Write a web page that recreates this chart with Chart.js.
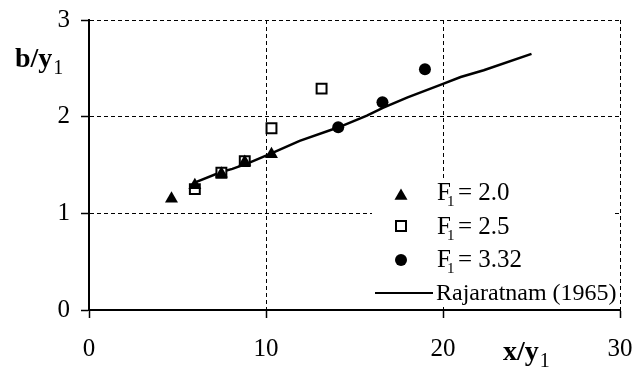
<!DOCTYPE html>
<html>
<head>
<meta charset="utf-8">
<script src="https://cdn.jsdelivr.net/npm/chart.js@4.4.1/dist/chart.umd.min.js"></script>
<style>
    html, body { margin: 0; padding: 0; background: #fff; }
    #wrap { width: 637px; height: 371px; }
</style>
</head>
<body>
<div id="wrap"><canvas id="myChart" width="637" height="371"></canvas></div>
<script>
// Measured points, grouped by inflow Froude number F1
const f20X = [4.66, 5.98, 7.48, 8.80, 10.31];
const f20Y = [1.15, 1.29, 1.41, 1.53, 1.61];
const f25X = [5.98, 7.48, 8.80, 10.31, 13.14];
const f25Y = [1.25, 1.42, 1.54, 1.88, 2.29];
const f332X = [14.08, 16.58, 18.98];
const f332Y = [1.89, 2.15, 2.49];

// Rajaratnam (1965) curve
const rajX = [6.0, 7.5, 8.1, 9.0, 10.3, 11.9, 14.1, 15.7, 16.6, 18.0, 20.0, 21.0, 22.3, 25.0];
const rajY = [1.32, 1.43, 1.46, 1.52, 1.62, 1.75, 1.89, 2.01, 2.09, 2.20, 2.34, 2.41, 2.48, 2.65];

const froudeValues = ['2.0', '2.5', '3.32'];
const curveLabel = 'Rajaratnam (1965)';
const xTicks = [0, 10, 20, 30];
const yTicks = [0, 1, 2, 3];

const serif = '"Liberation Serif", "Times New Roman", serif';

function toPoints(xs, ys) {
    return xs.map((x, i) => ({ x: x, y: ys[i] }));
}

// legend box sits inside the plot, lower right; axis titles drawn here too
const legendPlugin = {
    id: 'insideLegend',
    afterDatasetsDraw(chart) {
        const ctx = chart.ctx;
        ctx.save();
        ctx.fillStyle = '#fff';
        ctx.fillRect(372, 178, 240, 129);

        const markX = 401;
        const textX = 437;
        const baselines = [200, 234, 267, 300];
        const markY = [196, 226, 260];

        ctx.fillStyle = '#000';
        ctx.strokeStyle = '#000';

        // triangle
        ctx.beginPath();
        ctx.moveTo(markX, markY[0] - 7.5);
        ctx.lineTo(markX + 6.5, markY[0] + 3.75);
        ctx.lineTo(markX - 6.5, markY[0] + 3.75);
        ctx.closePath();
        ctx.fill();

        // open square
        ctx.lineWidth = 2;
        ctx.fillStyle = '#fff';
        ctx.fillRect(markX - 5, markY[1] - 5, 10, 10);
        ctx.strokeRect(markX - 5, markY[1] - 5, 10, 10);
        ctx.fillStyle = '#000';

        // filled circle
        ctx.beginPath();
        ctx.arc(markX, markY[2], 6, 0, Math.PI * 2);
        ctx.fill();

        // curve sample
        ctx.lineWidth = 2;
        ctx.beginPath();
        ctx.moveTo(375, 293);
        ctx.lineTo(433, 293);
        ctx.stroke();

        ctx.textBaseline = 'alphabetic';
        ctx.textAlign = 'left';
        froudeValues.forEach((v, i) => {
            const y = baselines[i];
            ctx.font = '25px ' + serif;
            ctx.fillText('F', textX, y);
            ctx.font = '15px ' + serif;
            ctx.fillText('1', textX + 10, y + 6);
            ctx.font = '25px ' + serif;
            ctx.fillText('= ' + v, textX + 21, y);
        });
        ctx.font = '24px ' + serif;
        ctx.fillText(curveLabel, textX - 1, baselines[3]);

        // axis titles
        ctx.font = 'bold 28px ' + serif;
        ctx.fillText('b/y', 15, 67);
        let w = ctx.measureText('b/y').width;
        ctx.font = '20px ' + serif;
        ctx.fillText('1', 15 + w + 1, 74);

        ctx.font = 'bold 28px ' + serif;
        ctx.fillText('x/y', 503, 360);
        w = ctx.measureText('x/y').width;
        ctx.font = '20px ' + serif;
        ctx.fillText('1', 503 + w + 1, 367);
        ctx.restore();
    }
};

function renderChart() {
    const ctx = document.getElementById('myChart').getContext('2d');
    const gridStyle = {
        color: '#000',
        lineWidth: 1,
        drawTicks: true,
        tickLength: 8,
        tickColor: '#000',
        tickWidth: 1.5,
        tickBorderDash: []
    };
    // solid axis line, dashed grid lines
    const borderStyle = { display: true, color: '#000', width: 2, dash: [4, 3] };

    new Chart(ctx, {
        type: 'scatter',
        data: {
            datasets: [
                {
                    label: 'F1 = 2.0',
                    data: toPoints(f20X, f20Y),
                    pointStyle: 'triangle',
                    pointRadius: 7.5,
                    backgroundColor: '#000',
                    borderColor: '#000',
                    borderWidth: 0
                },
                {
                    label: 'F1 = 2.5',
                    data: toPoints(f25X, f25Y),
                    pointStyle: 'rect',
                    pointRadius: 7,
                    backgroundColor: '#fff',
                    borderColor: '#000',
                    borderWidth: 2
                },
                {
                    label: 'F1 = 3.32',
                    data: toPoints(f332X, f332Y),
                    pointStyle: 'circle',
                    pointRadius: 6,
                    backgroundColor: '#000',
                    borderColor: '#000',
                    borderWidth: 0
                },
                {
                    type: 'line',
                    label: curveLabel,
                    data: toPoints(rajX, rajY),
                    borderColor: '#000',
                    borderWidth: 2.5,
                    pointRadius: 0,
                    fill: false,
                    tension: 0
                }
            ]
        },
        options: {
            responsive: false,
            animation: false,
            layout: { padding: { left: 0, right: 17, top: 20, bottom: 0 } },
            plugins: {
                legend: { display: false },
                tooltip: { enabled: false }
            },
            scales: {
                x: {
                    type: 'linear',
                    min: 0,
                    max: 30,
                    afterBuildTicks: scale => { scale.ticks = xTicks.map(v => ({ value: v })); },
                    afterFit: scale => {
                        scale.height = 61;
                        scale.paddingLeft = 0;
                        scale.paddingRight = 0;
                    },
                    grid: gridStyle,
                    border: borderStyle,
                    ticks: { color: '#000', padding: 16, font: { family: serif, size: 25 } }
                },
                y: {
                    type: 'linear',
                    min: 0,
                    max: 3,
                    afterBuildTicks: scale => { scale.ticks = yTicks.map(v => ({ value: v })); },
                    afterFit: scale => {
                        scale.width = 89;
                        scale.paddingTop = 0;
                        scale.paddingBottom = 0;
                    },
                    grid: gridStyle,
                    border: borderStyle,
                    ticks: { color: '#000', padding: 11, font: { family: serif, size: 25 } }
                }
            }
        },
        plugins: [legendPlugin]
    });
}

renderChart();
</script>
</body>
</html>
